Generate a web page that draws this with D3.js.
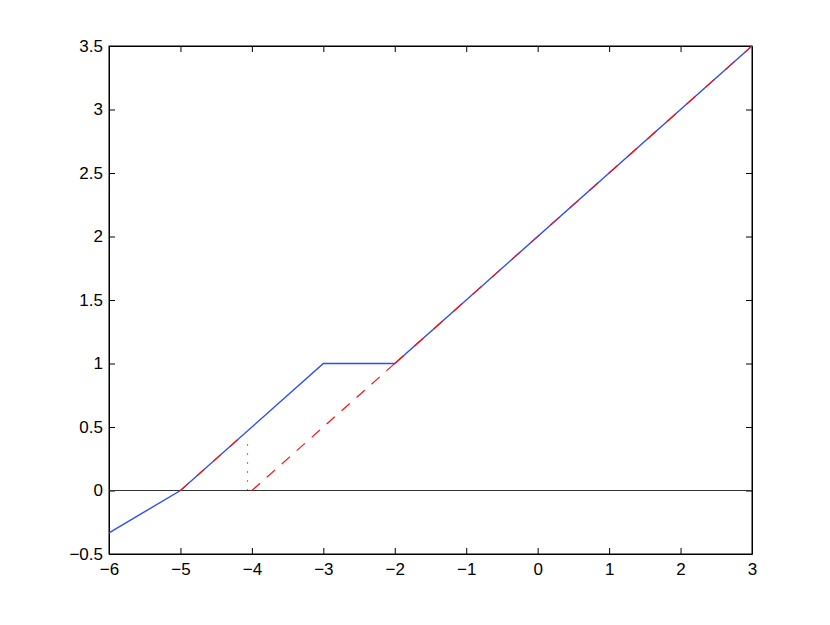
<!DOCTYPE html>
<html><head><meta charset="utf-8">
<script src="https://cdn.jsdelivr.net/npm/d3@7"></script>
<style>body{margin:0;background:#fff}text{font-family:"Liberation Sans",Arial,sans-serif}</style>
</head><body>
<svg id="c" width="830" height="625"></svg>
<script>
const xTicks = [-6,-5,-4,-3,-2,-1,0,1,2,3];
const yTicks = [-0.5,0,0.5,1,1.5,2,2.5,3,3.5];
const blueX = [-6,-5,-3,-2,3];
const blueY = [-0.3333,0,1,1,3.5];
const redSolidA_X = [-5,-4.12];
const redSolidA_Y = [0,0.44];
const redDashX = [-4,-2];
const redDashY = [0,1];
const redSolidB_X = [-2,3];
const redSolidB_Y = [1,3.5];
const dotX = [-4.06,-4.06];
const dotY = [0,0.42];
const zeroX = [-6,3];
const zeroY = [0,0];

const L=109,R=752,T=46,B=554;
const svg=d3.select("#c");
const x=d3.scaleLinear().domain([-6,3]).range([L,R]);
const y=d3.scaleLinear().domain([-0.5,3.5]).range([B,T]);
const fmt=d=>String(d).replace("-","\u2212");
const tl=6;
svg.append("g").attr("transform",`translate(0,${B})`).call(d3.axisBottom(x).tickValues(xTicks).tickSizeInner(-tl).tickSizeOuter(0).tickPadding(9).tickFormat(fmt));
svg.append("g").attr("transform",`translate(0,${T})`).call(d3.axisTop(x).tickValues(xTicks).tickSizeInner(-tl).tickSizeOuter(0).tickFormat(""));
svg.append("g").attr("transform",`translate(${L},0)`).call(d3.axisLeft(y).tickValues(yTicks).tickSizeInner(-tl).tickSizeOuter(0).tickPadding(6).tickFormat(fmt));
svg.append("g").attr("transform",`translate(${R},0)`).call(d3.axisRight(y).tickValues(yTicks).tickSizeInner(-tl).tickSizeOuter(0).tickFormat(""));
svg.selectAll(".domain").attr("stroke","#000");
svg.selectAll(".tick line").attr("stroke","#000");
svg.selectAll(".tick text").style("font-size","17px").attr("fill","#000").style("font-family","Liberation Sans, Arial, sans-serif");
svg.append("rect").attr("x",L).attr("y",T).attr("width",R-L).attr("height",B-T).attr("fill","none").attr("stroke","#000");

const line=d3.line().x(d=>x(d[0])).y(d=>y(d[1]));
const pts=(a,b)=>a.map((v,i)=>[v,b[i]]);
const g=svg.append("g");
g.append("path").attr("d",line(pts(zeroX,zeroY))).attr("stroke","#333").attr("fill","none");
g.append("path").attr("d",line(pts(blueX,blueY))).attr("stroke","#2a4bff").attr("fill","none").attr("stroke-width",1.4);
g.append("path").attr("d",line(pts(redSolidA_X,redSolidA_Y))).attr("stroke","#ff1010").attr("fill","none").attr("stroke-width",1.2).attr("stroke-dasharray","10,12");
g.append("path").attr("d",line(pts(redSolidB_X,redSolidB_Y))).attr("stroke","#ff1010").attr("fill","none").attr("stroke-width",1.2).attr("stroke-dasharray","12,14");
g.append("path").attr("d",line(pts(redDashX,redDashY))).attr("stroke","#ff1010").attr("fill","none").attr("stroke-width",1.2).attr("stroke-dasharray","11,9");
g.append("path").attr("d",line(pts(dotX,dotY))).attr("stroke","#000").attr("fill","none").attr("stroke-dasharray","1,8");
</script>
</body></html>
